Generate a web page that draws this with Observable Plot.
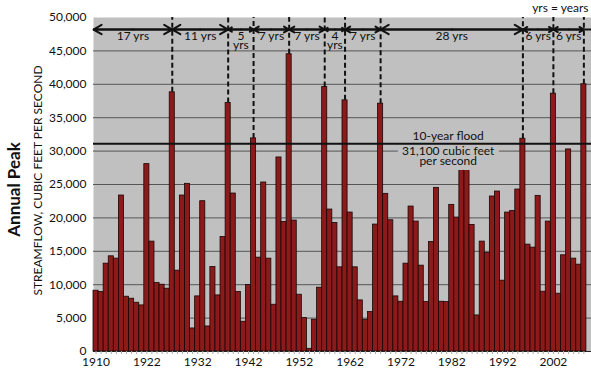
<!DOCTYPE html>
<html><head><meta charset="utf-8">
<script src="https://cdn.jsdelivr.net/npm/d3@7"></script>
<script src="https://cdn.jsdelivr.net/npm/@observablehq/plot@0.6"></script>
<style>body{margin:0;background:#fff;}</style>
</head><body><div id="chart"></div>
<script>
const years = [1912,1913,1914,1915,1916,1917,1918,1919,1920,1921,1922,1923,1924,1925,1926,1927,1928,1929,1930,1931,1932,1933,1934,1935,1936,1937,1938,1939,1940,1941,1942,1943,1944,1945,1946,1947,1948,1949,1950,1951,1952,1953,1954,1955,1956,1957,1958,1959,1960,1961,1962,1963,1964,1965,1966,1967,1968,1969,1970,1971,1972,1973,1974,1975,1976,1977,1978,1979,1980,1981,1982,1983,1984,1985,1986,1987,1988,1989,1990,1991,1992,1993,1994,1995,1996,1997,1998,1999,2000,2001,2002,2003,2004,2005,2006,2007,2008];
const peaks = [9100,8900,13150,14250,13900,23350,8200,7900,7300,6900,
  28050,16450,10250,10000,9400,38800,12100,23350,25100,3450,
  8250,22500,3750,12650,8400,17150,37200,23650,8900,4450,
  9950,31900,14050,25300,13900,7000,29050,19400,44500,19600,
  8500,5000,400,4750,9550,39600,21250,19250,12600,37600,
  20800,12600,7650,4750,5900,19000,37100,23600,19650,8250,
  7450,13150,21700,19450,12850,7400,16400,24500,7450,7400,
  21950,20050,27350,27950,18950,5400,16450,14750,23200,23950,
  10600,20800,21050,24250,31850,16000,15550,23300,8950,19450,
  38600,8650,14400,30250,13900,13000,40000];
const floodYears = [1927,1938,1943,1950,1957,1961,1968,1996,2002,2008];
const intervalLabels = ["17 yrs","11 yrs","5\nyrs","7 yrs","7 yrs","4\nyrs","7 yrs","28 yrs","6 yrs","6 yrs"];
const xTickYears = [1912,1922,1932,1942,1952,1962,1972,1982,1992,2002];
const xTickLabels = ["1910","1922","1932","1942","1952","1962","1972","1982","1992","2002"];
const yTicks = [0,5000,10000,15000,20000,25000,30000,35000,40000,45000,50000];
const floodLevel = 31100;

const xMin = years[0] - 0.5, xMax = years[years.length - 1] + 1.5;
const data = years.map((y, i) => ({year: y, peak: peaks[i]}));
const floods = floodYears.map(y => ({year: y, peak: peaks[years.indexOf(y)]}));
const arrowY = 48200;
const segs = floodYears.map((end, i) => {
  const start = i === 0 ? xMin : floodYears[i - 1];
  return {start, end, mid: (start + end) / 2, label: intervalLabels[i]};
});
const tickLabelOf = new Map(xTickYears.map((y, i) => [y, xTickLabels[i]]));
const floodText = ["31,100 cubic feet\nper second"];
const floodTextOpts = {x: 1981.3, y: floodLevel, dy: 4, lineAnchor: "top", lineHeight: 0.85, fontSize: 12};

const chart = Plot.plot({
  width: 591, height: 374,
  marginLeft: 93, marginRight: 0, marginTop: 17, marginBottom: 23,
  style: {fontFamily: "Lato, sans-serif", background: "#fff", overflow: "visible"},
  x: {type: "linear", domain: [xMin, xMax]},
  y: {domain: [0, 50000]},
  marks: [
    Plot.frame({fill: "#c0c0c0", stroke: null}),
    Plot.ruleY(yTicks.filter(d => d > 0 && d < 50000), {stroke: "#3a3a3a", strokeWidth: 0.8}),
    Plot.rectY(data, {x1: d => d.year - 0.5, x2: d => d.year + 0.5, y: "peak", fill: "#8c1a1a", stroke: "#1a0505", strokeWidth: 0.8}),
    Plot.ruleY([0], {stroke: "#222", strokeWidth: 1}),
    Plot.axisX({ticks: years, tickSize: 3, tickFormat: () => "", stroke: "#aaa"}),
    Plot.axisX({ticks: xTickYears, tickSize: 0, tickPadding: 6, fontSize: 12, fill: "#111", tickFormat: d => tickLabelOf.get(d)}),
    Plot.axisY({ticks: yTicks, tickSize: 0, tickPadding: 7, fontSize: 12, fill: "#111", tickFormat: d3.format(","), label: null}),
    Plot.text(floodText, {...floodTextOpts, fill: "#c0c0c0", stroke: "#c0c0c0", strokeWidth: 10, strokeLinejoin: "round"}),
    Plot.text(floodText, {...floodTextOpts, fill: "#111"}),
    Plot.text(["10-year flood"], {x: 1981.3, y: floodLevel, dy: -4, lineAnchor: "bottom", fontSize: 12, fill: "#111"}),
    Plot.ruleY([floodLevel], {stroke: "#111", strokeWidth: 2.2}),
    Plot.ruleY([arrowY], {x1: xMin, x2: xMax, stroke: "#111", strokeWidth: 2}),
    Plot.arrow(segs, {x1: "mid", x2: "start", y1: arrowY, y2: arrowY, stroke: "#111", strokeWidth: 2, headLength: 7}),
    Plot.arrow(segs, {x1: "mid", x2: "end", y1: arrowY, y2: arrowY, stroke: "#111", strokeWidth: 2, headLength: 7}),
    Plot.ruleX(floods, {x: "year", y1: "peak", y2: 50000, stroke: "#111", strokeWidth: 2, strokeDasharray: "5,3"}),
    Plot.text(segs, {x: "mid", y: 47700, text: "label", lineAnchor: "top", lineHeight: 0.8, fontSize: 12, fill: "#111"}),
    Plot.text(["yrs = years"], {frameAnchor: "top-right", textAnchor: "end", lineAnchor: "middle", dx: -3, dy: -9, fontSize: 12, fill: "#111"}),
    Plot.text(["STREAMFLOW, CUBIC FEET PER SECOND"], {frameAnchor: "left", textAnchor: "middle", rotate: -90, dx: -55, dy: -4, fontSize: 12, fill: "#111"}),
    Plot.text(["Annual Peak"], {frameAnchor: "left", textAnchor: "middle", rotate: -90, dx: -79, dy: 5, fontSize: 17, fontWeight: "bold", fill: "#111"})
  ]
});
document.getElementById("chart").appendChild(chart);
</script>
</body></html>
